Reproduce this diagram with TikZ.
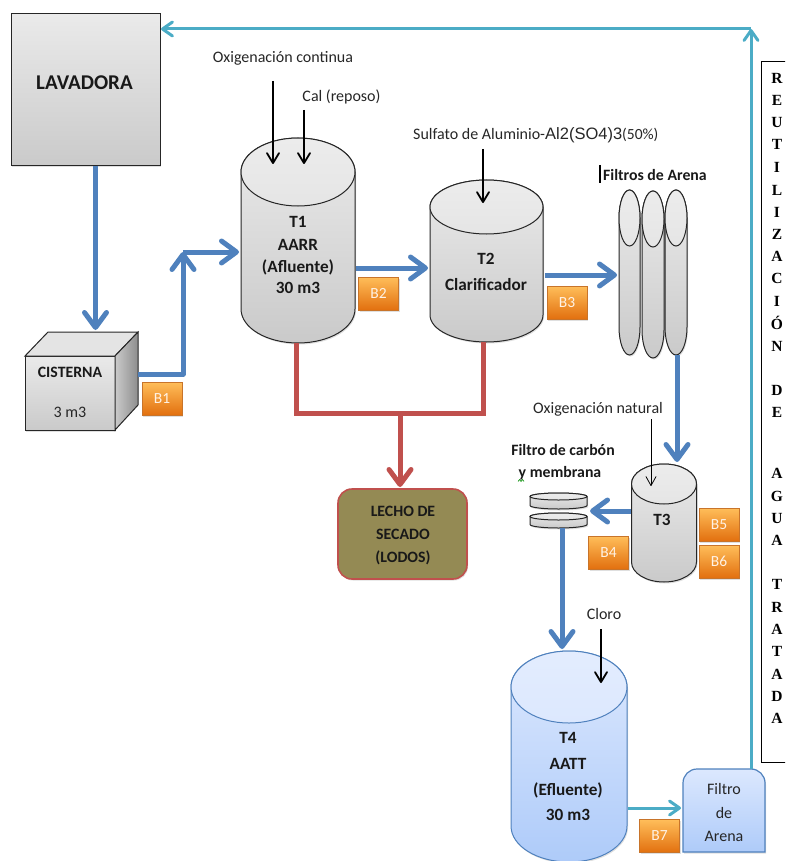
\documentclass[tikz,border=0pt]{standalone}
\usepackage{fontspec}
\setmainfont{Carlito}
\newfontfamily\arialf{Liberation Sans}
\newfontfamily\timesf{Liberation Serif}
\usetikzlibrary{arrows.meta,shadows,calc}
\definecolor{flowblue}{HTML}{4F81BD}
\definecolor{sludge}{HTML}{C0504D}
\definecolor{reuse}{HTML}{4BACC6}
\definecolor{olive}{HTML}{948A54}
\definecolor{gtop}{HTML}{EAEAEA}
\definecolor{gbot}{HTML}{CACACA}
\definecolor{bltop}{HTML}{DCE8FE}
\definecolor{blbot}{HTML}{AECBF9}
\definecolor{ortop}{HTML}{FFBE5A}
\definecolor{ormid}{HTML}{F58A24}
\definecolor{orbot}{HTML}{E2700F}
\definecolor{orline}{HTML}{C8742A}
\tikzset{
 flow/.style={line width=5pt,draw=flowblue,-{Straight Barb[length=15pt,width=22pt,round]}},
 sludgeflow/.style={line width=5pt,draw=sludge,-{Straight Barb[length=15pt,width=22pt,round]}},
 sludgeplain/.style={line width=5pt,draw=sludge},
 reuseflow/.style={line width=3pt,draw=reuse,-{Straight Barb[length=10pt,width=14pt,round]}},
 dose/.style={line width=1.8pt,draw=black,-{Straight Barb[length=10pt,width=12pt,round]}},
 dosethin/.style={line width=.8pt,draw=black,-{Straight Barb[length=9pt,width=10pt,round]}},
 softshadow/.style={drop shadow={shadow xshift=1pt,shadow yshift=-1.5pt,opacity=.25}},
 greybody/.style={draw=black!85,line width=1pt,top color=gtop,bottom color=gbot},
 greytop/.style={draw=black!85,line width=1pt,top color=gtop!90!white,bottom color=gtop!85!gbot},
 bluebody/.style={draw=flowblue,line width=1pt,top color=bltop,bottom color=blbot},
 bluetop/.style={draw=flowblue,line width=1pt,top color=bltop!80!white,bottom color=bltop},
 pump/.style={draw=orline,line width=.8pt,top color=ortop,middle color=ormid,bottom color=orbot,
   text=white!90!orange,minimum width=40pt,minimum height=33pt,inner sep=0pt,
   font=\fontsize{15.5}{15.5}\selectfont,softshadow},
 lab/.style={inner sep=0pt,text=black!85,font=\fontsize{16}{16}\selectfont},
 blab/.style={inner sep=0pt,text=black!90,font=\fontsize{17.2}{17.2}\selectfont\bfseries},
 slab/.style={inner sep=0pt,text=black!90,font=\fontsize{15.8}{15.8}\selectfont\bfseries},
 vlet/.style={inner sep=0pt,text=black,font=\timesf\fontsize{15.5}{15.5}\selectfont\bfseries},
 holder/.style={inner sep=0pt,draw=none},
}
% name, left x, right x, top y, ellipse half height, bottom y, body style, top style
\newcommand{\tankshape}[8]{%
 \pgfmathsetmacro{\cxv}{(#2+#3)/2}\pgfmathsetmacro{\rxv}{(#3-#2)/2}%
 \pgfmathsetmacro{\mtv}{#4+#5}\pgfmathsetmacro{\mbv}{#6-#5}%
 \pgfmathsetmacro{\wv}{#3-#2}\pgfmathsetmacro{\hv}{#6-#4}\pgfmathsetmacro{\cyv}{(#4+#6)/2}%
 \path[#7,softshadow] (#2,\mtv) -- (#2,\mbv) arc[start angle=180,end angle=360,x radius=\rxv pt,y radius=#5pt]
   -- (#3,\mtv) arc[start angle=0,end angle=180,x radius=\rxv pt,y radius=#5pt] -- cycle;
 \path[#8] (\cxv,\mtv) ellipse[x radius=\rxv pt,y radius=#5pt];
 \node[holder,minimum width=\wv pt,minimum height=\hv pt] (#1) at (\cxv,\cyv) {};%
}
\begin{document}
\begin{tikzpicture}[x=1pt,y=-1pt]
\useasboundingbox (0,0) rectangle (785,861);
\clip (0,0) rectangle (785,861);

% reuse column
\draw[black,line width=1pt] (786,62) -- (761.5,62) -- (761.5,762) -- (786,762);
\foreach \l/\y/\n in {R/78/a,E/100/b,U/122/c,T/144/d,I/167/e,L/190/f,I/212/g,Z/234/h,A/256/i,C/278/j,I/301/k,Ó/323/l,N/346/m,D/390/n,E/412/o,A/473/p,G/496/q,U/518/r,A/540/s,T/584/t,R/607/u,A/629/v,T/651/w,A/674/x,D/696/y,A/718/z}
  \node[vlet] (let\n) at (777,\y) {\l};

% Lavadora
\node[softshadow,draw=black!85,line width=1pt,top color=gtop,bottom color=gbot,minimum width=149pt,minimum height=152pt,inner sep=0pt] (lav) at (85.5,90) {};
\node[inner sep=0pt,font=\fontsize{21}{21}\selectfont\bfseries,text=black!90] (lavt) at (84.5,83) {LAVADORA};

% Cisterna
\path[softshadow,greybody] (25,356) -- (115,356) -- (115,430) -- (25,430) -- cycle;
\path[draw=black!85,line width=1pt,fill=gtop!80!gbot] (25,356) -- (48,332) -- (138,332) -- (115,356) -- cycle;
\path[draw=black!85,line width=1pt,left color=gbot,right color=gbot!70!black] (115,356) -- (138,332) -- (138,405) -- (115,430) -- cycle;
\node[holder,minimum width=113pt,minimum height=98pt] (cis) at (81.5,381) {};
\node[slab] (cist) at (70,372.5) {CISTERNA};
\node[lab] (cisv) at (70,412) {3 m3};

% Tanks
\tankshape{t1}{241}{355}{138}{34}{343}{greybody}{greytop}
\tankshape{t2}{430}{543}{180}{27}{342}{greybody}{greytop}
\tankshape{fa}{619}{640}{190}{28}{355}{greybody}{greytop}
\tankshape{fb}{642}{664}{191}{28}{358}{greybody}{greytop}
\tankshape{fc}{665}{687}{190}{28}{355}{greybody}{greytop}
\tankshape{t3}{631.5}{696.5}{464}{20}{582}{greybody}{greytop}
\tankshape{t4}{511}{627}{651}{36}{862}{bluebody}{bluetop}

% Carbon filter discs
\tankshape{da}{530}{587}{493}{3.5}{509}{greybody}{greytop}
\tankshape{db}{530}{587}{513}{3.5}{528}{greybody}{greytop}

% Lecho
\node[softshadow,rounded corners=14pt,draw=sludge,line width=1.6pt,fill=olive,minimum width=129pt,minimum height=90pt,inner sep=0pt] (lecho) at (402.5,534) {};
\node[slab] (lechoa) at (403,511) {LECHO DE};
\node[slab] (lechob) at (403,534.5) {SECADO};
\node[slab] (lechoc) at (403,558) {(LODOS)};

% Filtro de arena box
\path[draw=flowblue,line width=1.2pt,top color=bltop,bottom color=blbot,softshadow]
  (683,852) -- (683,783) arc[start angle=180,end angle=90,radius=14pt] -- (751,769)
  arc[start angle=90,end angle=0,radius=14pt] -- (765,852) -- cycle;
\node[holder,minimum width=82pt,minimum height=83pt] (fbox) at (724,810.5) {};
\node[lab] (fboxa) at (724,789) {Filtro};
\node[lab] (fboxb) at (724,813) {de};
\node[lab] (fboxc) at (724,836.5) {Arena};

% Named points
\coordinate (j1) at (183,374);
\coordinate (j2) at (183,252);
\coordinate (c1) at (138,374);
\coordinate (t1in) at (239,252);
\coordinate (t1out) at (356,268);
\coordinate (t2in) at (428,268);
\coordinate (t2out) at (545,275);
\coordinate (fin) at (617,275);
\coordinate (fout) at (677,355);
\coordinate (t3in) at (677,462);
\coordinate (t3out) at (631,511);
\coordinate (dbin) at (590,511);
\coordinate (dout) at (562,528);
\coordinate (t4in) at (562,649);
\coordinate (t1s) at (296,343);
\coordinate (t2s) at (483,342);
\coordinate (r1) at (296,413);
\coordinate (r2) at (483,413);
\coordinate (r3) at (400,413);
\coordinate (lavout) at (95.5,166);
\coordinate (cisin) at (95.5,330);
\coordinate (lechoin) at (400,487);
\coordinate (t4out) at (628,808);
\coordinate (fboxin) at (681,808);
\coordinate (fboxout) at (751,769);
\coordinate (up) at (751,29);
\coordinate (lavin) at (161,29);

% Main flow
\draw[flow] (lavout) -- (cisin);
\draw[flow,line join=round] (c1) -- (j1) -- (j2);
\draw[flow] (j2) -- (t1in);
\draw[flow] (t1out) -- (t2in);
\draw[flow] (t2out) -- (fin);
\draw[flow] (fout) -- (t3in);
\draw[flow] (t3out) -- (dbin);
\draw[flow] (dout) -- (t4in);

% Sludge
\draw[sludgeplain,line join=miter] (t1s) -- (r1) -- (r2) -- (t2s);
\draw[sludgeflow] (r3) -- (lechoin);

% Reuse
\draw[reuseflow] (t4out) -- (fboxin);
\draw[reuseflow] (fboxout) -- (up);
\draw[reuseflow] (up) -- (lavin);

% Pumps
\node[pump] (b1) at (162,398.5) {B1};
\node[pump] (b2) at (378.5,293.5) {B2};
\node[pump] (b3) at (567,302.5) {B3};
\node[pump] (b4) at (608.5,552.5) {B4};
\node[pump] (b5) at (719,524.5) {B5};
\node[pump] (b6) at (719,561.5) {B6};
\node[pump] (b7) at (659.5,836) {B7};

% Dosing labels and arrows
\node[lab] (oxc) at (283,58) {Oxigenación continua};
\node[lab] (cal) at (341.5,97) {Cal (reposo)};
\coordinate (oxs) at (273,81); \coordinate (oxe) at (273,164);
\coordinate (cals) at (304,110); \coordinate (cale) at (304,164);
\draw[dose] (oxs) -- (oxe);
\draw[dose] (cals) -- (cale);
\node[lab,anchor=west] (sul) at (413,135) {Sulfato de Aluminio-{\arialf\fontsize{16.5}{16.5}\selectfont Al2(SO4)3}{\fontsize{15.5}{15.5}\selectfont(50\%)}};
\coordinate (suls) at (483,149); \coordinate (sule) at (483,203);
\draw[dose] (suls) -- (sule);
\node[slab,anchor=west] (fil) at (603,175) {Filtros de Arena};
\draw[black,line width=2pt] (600,165) -- (600,183);
\node[lab] (oxn) at (598,409) {Oxigenación natural};
\coordinate (oxns) at (651,419); \coordinate (oxne) at (651,486);
\draw[dosethin] (oxns) -- (oxne);
\node[slab] (carb) at (563,450) {Filtro de carbón};
\node[slab] (memb) at (560,473) {y membrana};
\draw[green!55!black,line width=.6pt] (518,481.5) -- (519.5,479.5) -- (521,481.5) -- (522.5,479.5) -- (524,481.5);
\node[lab] (clo) at (604,613.5) {Cloro};
\coordinate (clos) at (601,629); \coordinate (cloe) at (601,683);
\draw[dose] (clos) -- (cloe);

% Tank labels
\node[blab] (t1a) at (298,222) {T1};
\node[blab] (t1b) at (298,245) {AARR};
\node[blab] (t1c) at (298,267) {(Afluente)};
\node[blab] (t1d) at (298,288) {30 m3};
\node[blab] (t2a) at (486,259) {T2};
\node[blab] (t2b) at (486,285) {Clarificador};
\node[blab] (t3a) at (662,519.5) {T3};
\node[blab] (t4a) at (568,738) {T4};
\node[blab] (t4b) at (568,764) {AATT};
\node[blab] (t4c) at (568,790) {(Efluente)};
\node[blab] (t4d) at (568,815) {30 m3};
\end{tikzpicture}
\end{document}
